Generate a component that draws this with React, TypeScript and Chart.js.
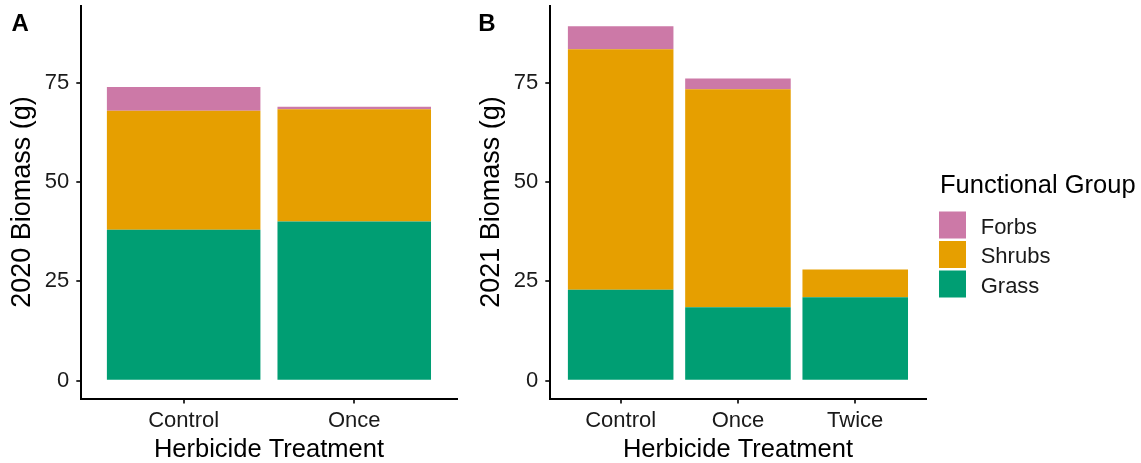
import React, { useEffect, useRef } from "react";
import { Chart, registerables } from "chart.js";

Chart.register(...registerables);

const FONT = "'Liberation Sans', Arial, sans-serif";

// Functional groups (bottom to top in the stack)
const groups = ["Grass", "Shrubs", "Forbs"];
const groupColors = ["#009E73", "#E69F00", "#CC79A7"];

// Panel A: 2020
const categoriesA = ["Control", "Once"];
const grassA = [38.0, 40.1];
const shrubsA = [30.0, 28.3];
const forbsA = [6.0, 0.6];

// Panel B: 2021
const categoriesB = ["Control", "Once", "Twice"];
const grassB = [22.9, 18.5, 21.0];
const shrubsB = [60.6, 54.9, 7.0];
const forbsB = [5.8, 2.7, 0];

const yTicks = [0, 25, 50, 75];
const yMin = -4.5;
const yMax = 94.5;

const xTitle = "Herbicide Treatment";
const yTitleA = "2020 Biomass (g)";
const yTitleB = "2021 Biomass (g)";
const legendTitle = "Functional Group";

const H = 463;
const PLOT_LEFT = 81.3;
const PLOT_RIGHT = 456.6;
const PLOT_TOP = 5.6;
const PLOT_BOTTOM = 398.5;
const TEXT_COLOR = "#1a1a1a";

type PanelProps = {
  left: number;
  width: number;
  categories: string[];
  series: number[][];
  yTitle: string;
  tag: string;
  tagX: number;
  showLegend: boolean;
  legendX?: number;
};

function Panel(props: PanelProps) {
  const ref = useRef<HTMLCanvasElement | null>(null);

  useEffect(() => {
    const canvas = ref.current;
    if (!canvas) return;
    const { width, categories, series, yTitle, tag, tagX, showLegend, legendX } = props;

    const datasets = groups.map((g, gi) => ({
      label: g,
      data: categories.map((_, i) => ({ x: i + 1, y: series[gi][i] })),
      backgroundColor: groupColors[gi],
      borderWidth: 0,
      stack: "total",
      categoryPercentage: 0.9,
      barPercentage: 1.0,
    }));

    const overlay = {
      id: "overlay",
      afterDraw(chart: any) {
        const ctx = chart.ctx;
        ctx.save();
        // panel tag
        ctx.fillStyle = "#000";
        ctx.font = `bold 24px ${FONT}`;
        ctx.textAlign = "left";
        ctx.textBaseline = "middle";
        ctx.fillText(tag, tagX, 24);

        if (showLegend && legendX !== undefined) {
          ctx.font = `25.5px ${FONT}`;
          ctx.fillStyle = "#000";
          ctx.fillText(legendTitle, legendX + 1, 186);
          const ds = chart.data.datasets.slice().reverse();
          const box = 27;
          const step = 29.5;
          const top0 = 211.5;
          ctx.font = `22px ${FONT}`;
          ds.forEach((d: any, i: number) => {
            const y = top0 + i * step;
            ctx.fillStyle = d.backgroundColor;
            ctx.fillRect(legendX, y, box, box);
            ctx.fillStyle = TEXT_COLOR;
            ctx.fillText(d.label, legendX + 41.7, y + box / 2 + 2.8);
          });
        }
        ctx.restore();
      },
    };

    const gridOpts = {
      display: true,
      drawOnChartArea: false,
      drawTicks: true,
      offset: false,
      tickLength: 5,
      color: "#333",
      lineWidth: 2,
    };
    const borderOpts = { display: true, color: "#000", width: 2 };

    const chart = new Chart(canvas, {
      type: "bar",
      data: { datasets: datasets as any },
      options: {
        animation: false,
        responsive: false,
        maintainAspectRatio: false,
        devicePixelRatio: 1,
        layout: {
          padding: { left: 0, right: width - PLOT_RIGHT, top: PLOT_TOP, bottom: 0 },
        },
        plugins: {
          legend: { display: false },
          tooltip: { enabled: false },
          title: { display: false },
        },
        scales: {
          x: {
            type: "linear",
            min: 0.4,
            max: categories.length + 0.6,
            offset: false,
            grid: gridOpts as any,
            border: borderOpts,
            ticks: {
              font: { family: FONT, size: 22, lineHeight: 1.2 },
              color: TEXT_COLOR,
              padding: 4.6,
              maxRotation: 0,
              minRotation: 0,
              autoSkip: false,
              callback: (v: any) => categories[Math.round(Number(v)) - 1] ?? "",
            },
            afterBuildTicks: (s: any) => {
              s.ticks = categories.map((_, i) => ({ value: i + 1 }));
            },
            afterFit: (s: any) => {
              s.height = H - PLOT_BOTTOM;
              s.paddingLeft = 0;
              s.paddingRight = 0;
              s.paddingTop = 0;
              s.paddingBottom = 0;
            },
            title: {
              display: true,
              text: xTitle,
              color: "#000",
              font: { family: FONT, size: 25.5, lineHeight: 1 },
              padding: { top: 0, bottom: 0.5 },
            },
          },
          y: {
            type: "linear",
            stacked: true,
            min: yMin,
            max: yMax,
            grid: gridOpts as any,
            border: borderOpts,
            ticks: {
              font: { family: FONT, size: 22, lineHeight: 1.2 },
              color: TEXT_COLOR,
              padding: 7,
            },
            afterBuildTicks: (s: any) => {
              s.ticks = yTicks.map((v) => ({ value: v }));
            },
            afterFit: (s: any) => {
              s.width = PLOT_LEFT;
              s.paddingLeft = 0;
              s.paddingRight = 0;
              s.paddingTop = 0;
              s.paddingBottom = 0;
            },
            title: {
              display: true,
              text: yTitle,
              color: "#000",
              font: { family: FONT, size: 27, lineHeight: 1 },
              padding: { top: 9.5, bottom: 0 },
            },
          },
        },
      } as any,
      plugins: [overlay],
    });

    return () => {
      chart.destroy();
    };
  }, []);

  return (
    <canvas
      ref={ref}
      width={props.width}
      height={H}
      style={{
        position: "absolute",
        left: props.left,
        top: 0,
        width: props.width,
        height: H,
      }}
    />
  );
}

export default function App() {
  return (
    <div
      style={{
        position: "absolute",
        left: 0,
        top: 0,
        width: 1141,
        height: H,
        background: "#fff",
        overflow: "hidden",
      }}
    >
      <Panel
        left={0}
        width={469}
        categories={categoriesA}
        series={[grassA, shrubsA, forbsA]}
        yTitle={yTitleA}
        tag="A"
        tagX={11.5}
        showLegend={false}
      />
      <Panel
        left={469}
        width={672}
        categories={categoriesB}
        series={[grassB, shrubsB, forbsB]}
        yTitle={yTitleB}
        tag="B"
        tagX={9.3}
        showLegend={true}
        legendX={470}
      />
    </div>
  );
}
